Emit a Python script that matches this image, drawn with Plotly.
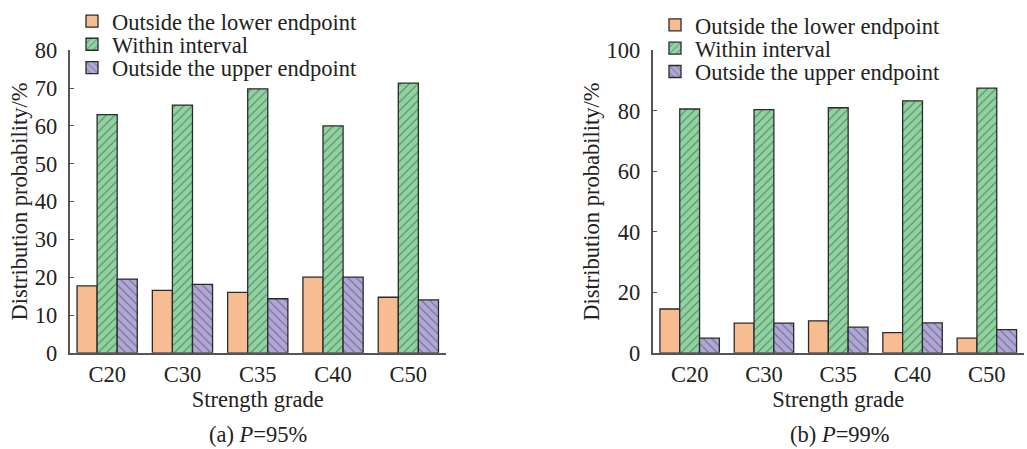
import plotly.graph_objects as go
from plotly.subplots import make_subplots

categories = ["C20", "C30", "C35", "C40", "C50"]
series_names = ["Outside the lower endpoint", "Within interval", "Outside the upper endpoint"]

# Panel (a) P=95%
a_lower = [17.7, 16.5, 16.0, 20.0, 14.7]
a_within = [63.0, 65.5, 69.8, 60.0, 71.3]
a_upper = [19.5, 18.1, 14.3, 20.0, 14.0]

# Panel (b) P=99%
b_lower = [14.5, 9.8, 10.6, 6.7, 4.9]
b_within = [80.6, 80.4, 81.0, 83.3, 87.5]
b_upper = [4.9, 9.8, 8.5, 9.9, 7.7]

a_ticks = [0, 10, 20, 30, 40, 50, 60, 70, 80]
b_ticks = [0, 20, 40, 60, 80, 100]

colors = ["#f8bc92", "#8ed3a0", "#b1a7d7"]
shapes = ["", "/", "\\"]
FONT = "Liberation Serif"
FS = 22.5
TXT = "#222"
W, H = 1027, 449

fig = make_subplots(rows=1, cols=2)


def px_x(p):
    return p / W


def px_y(p):
    return 1 - p / H


legend_rows_a = [17.5, 41, 64.5]
legend_rows_b = [21.5, 45, 68.5]

legend_layout = {}
k = 1
for col, vals, rows, lx in [(1, [a_lower, a_within, a_upper], legend_rows_a, 72),
                            (2, [b_lower, b_within, b_upper], legend_rows_b, 655)]:
    for name, v, c, s, ry in zip(series_names, vals, colors, shapes, rows):
        lname = "legend" if k == 1 else f"legend{k}"
        fig.add_trace(go.Bar(
            x=categories, y=v, name=name,
            marker=dict(color=c, line=dict(color="#2a2a2a", width=1.3),
                        pattern=dict(shape=s, fgcolor="#2a2a2a", size=6, solidity=0.18, bgcolor=c)),
            legend=lname,
        ), row=1, col=col)
        legend_layout[lname] = dict(x=px_x(lx), y=px_y(ry), xanchor="left", yanchor="middle",
                                    bgcolor="rgba(0,0,0,0)",
                                    font=dict(family=FONT, size=FS, color=TXT),
                                    itemclick=False, itemdoubleclick=False)
        k += 1

ydom = [px_y(352), px_y(46.7)]
fig.update_layout(
    width=W, height=H,
    margin=dict(l=0, r=0, t=0, b=0),
    paper_bgcolor="white", plot_bgcolor="white",
    font=dict(family=FONT, size=FS, color=TXT),
    barmode="group", bargap=0.2, bargroupgap=0,
    xaxis=dict(domain=[px_x(69.5), px_x(446)]),
    xaxis2=dict(domain=[px_x(652.5), px_x(1024)]),
    yaxis=dict(domain=ydom),
    yaxis2=dict(domain=ydom),
    showlegend=True,
    **legend_layout,
)

common_x = dict(showline=True, linecolor="#555", linewidth=1.5, ticks="", showgrid=False,
                range=[-0.5, 4.5], automargin=False,
                tickfont=dict(family=FONT, size=FS, color=TXT),
                title=dict(text="Strength grade", font=dict(family=FONT, size=FS, color=TXT), standoff=4))
fig.update_xaxes(**common_x)
common_y = dict(showline=True, linecolor="#555", linewidth=1.5, ticks="inside", ticklen=5,
                tickcolor="#555", showgrid=False, zeroline=False, automargin=False,
                ticklabelstandoff=6,
                tickfont=dict(family=FONT, size=FS, color=TXT),
                title=dict(text="Distribution probability/%", font=dict(family=FONT, size=FS, color=TXT), standoff=1))
fig.update_yaxes(**common_y)
fig.update_yaxes(range=[0, 80], tickvals=a_ticks, row=1, col=1)
fig.update_yaxes(range=[0, 100], tickvals=b_ticks, row=1, col=2)

fig.add_annotation(text="(a) <i>P</i>=95%", x=px_x(258), y=px_y(434), xref="paper", yref="paper",
                   yanchor="middle", xanchor="center",
                   showarrow=False, font=dict(family=FONT, size=FS, color=TXT))
fig.add_annotation(text="(b) <i>P</i>=99%", x=px_x(840), y=px_y(434), xref="paper", yref="paper",
                   yanchor="middle", xanchor="center",
                   showarrow=False, font=dict(family=FONT, size=FS, color=TXT))

fig.write_html("out.html", config={"displayModeBar": False},
               post_script="document.body.style.margin='0';")
